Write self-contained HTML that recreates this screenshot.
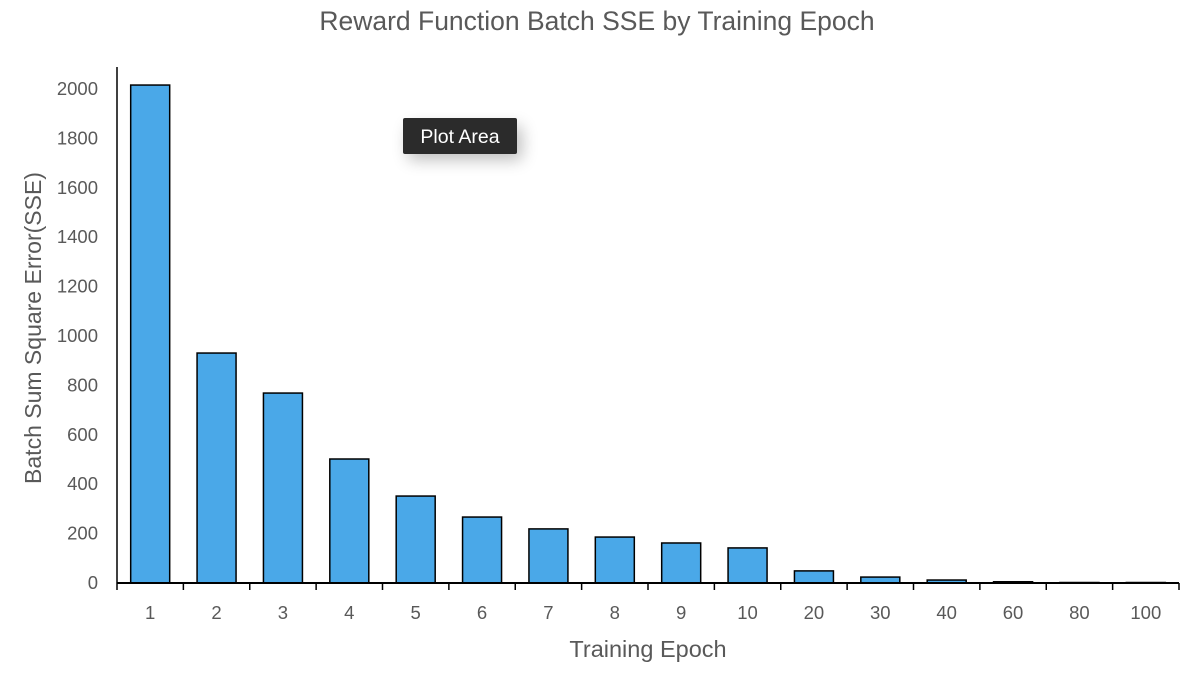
<!DOCTYPE html>
<html><head><meta charset="utf-8"><style>
body{margin:0;background:#fff;font-family:"Liberation Sans",sans-serif}
</style></head><body>
<svg id="c" width="1194" height="680" xmlns="http://www.w3.org/2000/svg">
<defs><filter id="sh" x="-50%" y="-50%" width="200%" height="200%"><feGaussianBlur stdDeviation="8"/></filter></defs>
</svg>
<script>
const categories=["1","2","3","4","5","6","7","8","9","10","20","30","40","60","80","100"];
const sseValues=[2016,931,769,502,352,267,219,186,162,142,49,24,12,5,2,2];
const yTicks=[0,200,400,600,800,1000,1200,1400,1600,1800,2000];
const svg=document.getElementById('c');const NS='http://www.w3.org/2000/svg';
const x0=117,x1=1179,y0=583,yTop=89;
const bw=(x1-x0)/categories.length;
const ys=v=>y0-(v/2000)*(y0-yTop);
function mk(t,a,txt){const e=document.createElementNS(NS,t);for(const k in a)e.setAttribute(k,a[k]);if(txt!=null)e.textContent=txt;svg.appendChild(e);return e;}
let e;
e=mk('text',{x:597,y:30,'text-anchor':'middle','font-size':26.5,fill:'#595959'},'Reward Function Batch SSE by Training Epoch');


yTicks.forEach(v=>{e=mk('text',{x:98,y:ys(v)+6,'text-anchor':'end','font-size':18.5,fill:'#595959'},String(v));

});
sseValues.forEach((v,i)=>{e=mk('rect',{x:x0+i*bw+(bw-39)/2,y:ys(v),width:39,height:y0-ys(v),fill:'#4aa8e8',stroke:'#000','stroke-width':1.5});

});
e=mk('line',{x1:x0,y1:67,x2:x0,y2:y0,stroke:'#000','stroke-width':1.5});


e=mk('line',{x1:x0,y1:y0,x2:x1,y2:y0,stroke:'#000','stroke-width':2});


for(let i=0;i<=categories.length;i++){e=mk('line',{x1:x0+i*bw,y1:y0,x2:x0+i*bw,y2:y0+7,stroke:'#000','stroke-width':1.5});

}
categories.forEach((c,i)=>{e=mk('text',{x:x0+(i+0.5)*bw,y:619,'text-anchor':'middle','font-size':18.5,fill:'#595959'},c);

});
e=mk('text',{x:648,y:657,'text-anchor':'middle','font-size':23.5,fill:'#595959'},'Training Epoch');


e=mk('text',{x:0,y:0,'text-anchor':'middle','font-size':23,fill:'#595959',transform:'translate(41,328) rotate(-90)'},'Batch Sum Square Error(SSE)');


e=mk('rect',{x:408,y:126,width:114,height:34,rx:3,fill:'#000',opacity:0.25,filter:'url(#sh)'});


e=mk('rect',{x:403,y:118,width:114,height:36,rx:2,fill:'#2b2b2b'});


e=mk('text',{x:460,y:143,'text-anchor':'middle','font-size':19.5,fill:'#fff'},'Plot Area');


</script>
</body></html>
